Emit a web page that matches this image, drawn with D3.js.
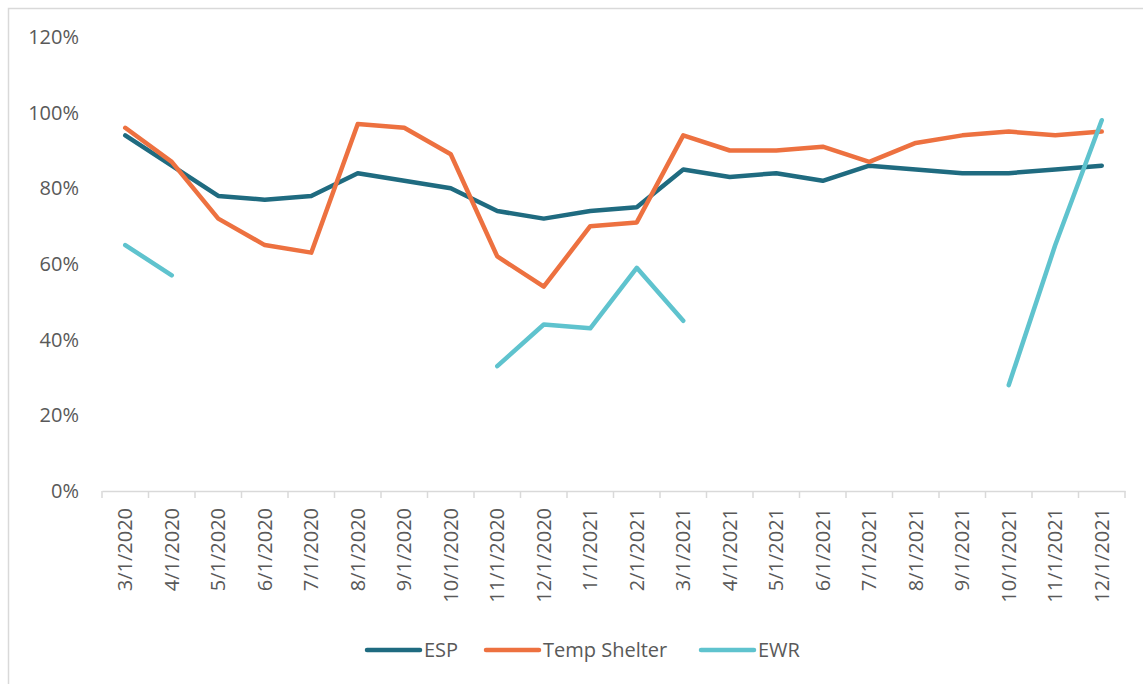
<!DOCTYPE html>
<html>
<head>
<meta charset="utf-8">
<script src="https://cdn.jsdelivr.net/npm/d3@7"></script>
<style>
  body { margin: 0; background: #fff; }
  text { font-family: "Open Sans", sans-serif; fill: #595959; }
</style>
</head>
<body>
<svg width="1143" height="684"></svg>
<script>
const months = ["3/1/2020", "4/1/2020", "5/1/2020", "6/1/2020", "7/1/2020", "8/1/2020",
  "9/1/2020", "10/1/2020", "11/1/2020", "12/1/2020", "1/1/2021", "2/1/2021", "3/1/2021",
  "4/1/2021", "5/1/2021", "6/1/2021", "7/1/2021", "8/1/2021", "9/1/2021", "10/1/2021",
  "11/1/2021", "12/1/2021"];

const esp = [94, 86, 78, 77, 78, 84, 82, 80, 74, 72, 74, 75, 85, 83, 84, 82, 86, 85, 84, 84, 85, 86];
const tempShelter = [96, 87, 72, 65, 63, 97, 96, 89, 62, 54, 70, 71, 94, 90, 90, 91, 87, 92, 94, 95, 94, 95];
const ewr = [65, 57, null, null, null, null, null, null, 33, 44, 43, 59, 45, null, null, null, null, null, null, 28, 65, 98];

const yTicks = [0, 20, 40, 60, 80, 100, 120];

const seriesNames = ["ESP", "Temp Shelter", "EWR"];
const colors = ["#1f6b80", "#ed7140", "#5fc3ce"];

const svg = d3.select("svg");
const width = +svg.attr("width");
const height = +svg.attr("height");

// chart frame, cropped on right and bottom like the original
svg.append("rect")
  .attr("x", 8.5).attr("y", 8.5)
  .attr("width", width + 20).attr("height", height + 20)
  .attr("fill", "none")
  .attr("stroke", "#d9d9d9")
  .attr("stroke-width", 1.5);

const margin = { top: 37, right: 18, bottom: 193, left: 102 };
const graphWidth = width - margin.left - margin.right;
const graphHeight = height - margin.top - margin.bottom;

const graph = svg.append("g")
  .attr("transform", `translate(${margin.left}, ${margin.top})`);

const xScale = d3.scaleBand()
  .domain(months)
  .range([0, graphWidth]);

const yScale = d3.scaleLinear()
  .domain([0, 120])
  .range([graphHeight, 0]);

// y axis labels only
const yAxisG = graph.append("g")
  .call(d3.axisLeft(yScale).tickValues(yTicks).tickFormat(d => d + "%").tickSize(0).tickPadding(23));
yAxisG.select(".domain").remove();
yAxisG.selectAll("text")
  .style("font-size", "20px")
  .attr("fill", "#595959");

// x axis with ticks between categories
const xAxisG = graph.append("g")
  .attr("transform", `translate(0, ${graphHeight})`)
  .call(d3.axisBottom(xScale).tickSize(0).tickPadding(0));
xAxisG.select(".domain").attr("stroke", "#d9d9d9").attr("stroke-width", 1.5);
xAxisG.selectAll("text")
  .style("font-size", "20px")
  .attr("fill", "#595959")
  .attr("text-anchor", "end")
  .attr("dy", "0.35em")
  .attr("transform", "translate(0, 17) rotate(-90)");

xAxisG.selectAll(".sep")
  .data(d3.range(months.length + 1))
  .enter()
  .append("line")
  .attr("class", "sep")
  .attr("x1", i => i * xScale.step())
  .attr("x2", i => i * xScale.step())
  .attr("y1", 0)
  .attr("y2", 7)
  .attr("stroke", "#d9d9d9")
  .attr("stroke-width", 1.5);

const xValue = i => xScale(months[i]) + xScale.bandwidth() / 2;

const line = d3.line()
  .defined(d => d != null)
  .x((d, i) => xValue(i))
  .y(d => yScale(d));

const allSeries = [esp, tempShelter, ewr];

graph.selectAll(".series")
  .data(allSeries)
  .enter()
  .append("path")
  .attr("class", "series")
  .attr("d", d => line(d))
  .attr("fill", "none")
  .attr("stroke", (d, i) => colors[i])
  .attr("stroke-width", 4.5)
  .attr("stroke-linecap", "round")
  .attr("stroke-linejoin", "round");

// legend
const legendItems = [
  { name: seriesNames[0], x: 367 },
  { name: seriesNames[1], x: 486 },
  { name: seriesNames[2], x: 701 }
];
const legend = svg.append("g").attr("transform", "translate(0, 650)");
legendItems.forEach((item, i) => {
  legend.append("line")
    .attr("x1", item.x).attr("x2", item.x + 53)
    .attr("y1", 0).attr("y2", 0)
    .attr("stroke", colors[i])
    .attr("stroke-width", 4.5)
    .attr("stroke-linecap", "round");
  legend.append("text")
    .attr("x", item.x + 57)
    .attr("y", 0)
    .attr("dy", "0.35em")
    .style("font-size", "20px")
    .text(item.name);
});
</script>
</body>
</html>
